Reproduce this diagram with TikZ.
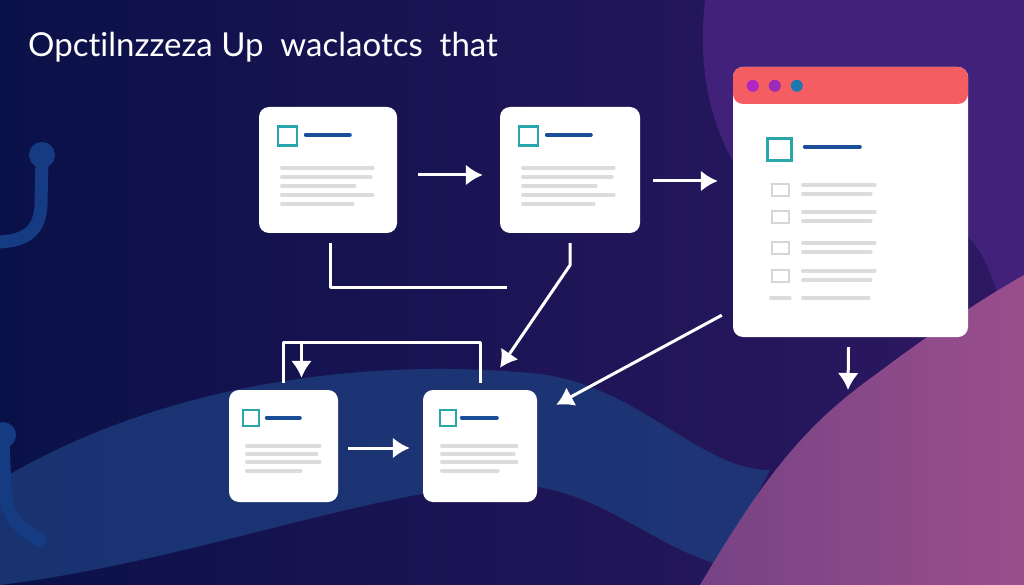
\documentclass[tikz,border=0pt]{standalone}
\usepackage{fontspec}
\setmainfont{Lato}[Ligatures={NoCommon,NoRare}]
\usepackage{xcolor}
\usepackage{tikz}
\usetikzlibrary{arrows.meta}
\usetikzlibrary{positioning}
\usetikzlibrary{calc}

\definecolor{bgleft}{HTML}{0A1148}
\definecolor{bgright}{HTML}{2E1862}
\definecolor{blobpurple}{HTML}{42217A}
\definecolor{wavebl}{HTML}{1D3C7C}
\definecolor{pinkl}{HTML}{764384}
\definecolor{pinkr}{HTML}{9A4E8C}
\definecolor{decoblue}{HTML}{153C82}
\definecolor{winred}{HTML}{F45E62}
\definecolor{tealbox}{HTML}{2AA6AA}
\definecolor{barblue}{HTML}{1B4E98}
\definecolor{greyline}{HTML}{DCDCDE}
\definecolor{greybox}{HTML}{D6D6D8}
\definecolor{dotone}{HTML}{B027C4}
\definecolor{dottwo}{HTML}{9E2AB8}
\definecolor{dotthree}{HTML}{1C78AE}

\begin{document}
\begin{tikzpicture}[x=1pt,y=-1pt,>=latex,
    card/.style={fill=white, rounded corners=10pt, inner sep=0pt},
    arr/.style={draw=white, line width=3pt, -{Latex[length=17pt,width=21pt]}},
    link/.style={draw=white, line width=3pt, line join=round},
    tealsq/.style={draw=tealbox, line width=2.6pt},
    bar/.style={draw=barblue, line width=4pt, line cap=round},
    txtline/.style={draw=greyline, line width=3.6pt, line cap=round},
    minibox/.style={draw=greybox, line width=2.4pt}]

  \useasboundingbox (0,0) rectangle (1024,585);

  % background
  \shade[left color=bgleft, right color=bgright] (0,0) rectangle (1024,585);
  \fill[blobpurple] (705,0) .. controls (695,90) and (720,160) .. (770,210)
      -- (960,230) .. controls (1000,260) and (995,320) .. (1024,345) -- (1024,0) -- cycle;
  \fill[wavebl, opacity=0.8] (0,480) .. controls (150,390) and (350,355) .. (540,374)
      .. controls (640,387) and (700,470) .. (770,470) -- (720,565)
      .. controls (650,545) and (600,490) .. (520,485)
      .. controls (400,480) and (200,560) .. (0,585) -- cycle;
  \shade[left color=pinkl, right color=pinkr] (700,585) .. controls (765,475) and (805,425) .. (875,375)
      .. controls (935,330) and (980,300) .. (1024,275) -- (1024,585) -- cycle;
  \draw[decoblue, line width=13pt, line cap=round] (42,158) -- (41,205) .. controls (40,235) and (20,242) .. (-5,242);
  \fill[decoblue] (42,155) circle (13);
  \draw[decoblue, line width=13pt, line cap=round] (3,440) -- (5,490) .. controls (6,515) and (20,530) .. (40,540);
  \fill[decoblue] (3,435) circle (13);

  % title
  \node[anchor=base west, inner sep=0pt, text=white, font=\fontsize{33}{38}\selectfont] (title) at (28,57)
      {Opctilnzzeza Up\ \ waclaotcs\ \ that};

  % cards
  \node[card, minimum width=138pt, minimum height=126pt] (c1) at (328,170) {};
  \node[card, minimum width=140pt, minimum height=126pt] (c2) at (570,170) {};
  \node[card, minimum width=109pt, minimum height=112pt] (c3) at (283.5,446) {};
  \node[card, minimum width=114pt, minimum height=112pt] (c4) at (480,446) {};
  \node[card, minimum width=235pt, minimum height=270pt,
        path picture={\fill[winred] (path picture bounding box.north west)
            rectangle ([yshift=-37pt]path picture bounding box.north east);}] (win) at (850.5,202) {};

  % card contents
  \foreach \c in {c1,c2}{
    \begin{scope}[shift={(\c.north west)}]
      \draw[tealsq] (19,20) rectangle (38,39);
      \draw[bar] (47,28) -- (91,28);
      \foreach \yy/\xe in {61/114, 70/112, 79/96, 88/114, 97/94}
        \draw[txtline] (23,\yy) -- (\xe,\yy);
    \end{scope}
  }
  \begin{scope}[shift={(c3.north west)}]
    \draw[tealsq] (14,20) rectangle (30,36);
    \draw[bar] (38,28) -- (71,28);
    \foreach \yy/\xe in {56/91, 64/88, 72/91, 81/72}
      \draw[txtline] (18,\yy) -- (\xe,\yy);
  \end{scope}
  \begin{scope}[shift={(c4.north west)}]
    \draw[tealsq] (17,20) rectangle (33,36);
    \draw[bar] (39,28) -- (74,28);
    \foreach \yy/\xe in {56/94, 64/91, 72/94, 81/75}
      \draw[txtline] (19,\yy) -- (\xe,\yy);
  \end{scope}
  \begin{scope}[shift={(win.north west)}]
    \fill[dotone] (20,19) circle (6);
    \fill[dottwo] (42,19) circle (6);
    \fill[dotthree] (64,19) circle (6);
    \draw[tealsq, line width=3pt] (35,72) rectangle (59,94);
    \draw[bar] (72,80) -- (127,80);
    \foreach \yy in {123,150,181,209}{
      \draw[minibox] (39,\yy-6) rectangle (56,\yy+6);
      \draw[txtline] (70,\yy-5) -- (142,\yy-5);
      \draw[txtline] (70,\yy+4) -- (138,\yy+4);
    }
    \draw[txtline] (38,231) -- (57,231);
    \draw[txtline] (70,231) -- (136,231);
  \end{scope}

  % connectors
  \coordinate (j1) at (507,287);
  \coordinate (j2) at (848,390);

  \draw[arr] ([xshift=21pt,yshift=-5pt]c1.east) -- ([xshift=-17pt,yshift=-5pt]c2.west);
  \draw[arr] ([xshift=13pt,yshift=-11pt]c2.east) -- ([xshift=-15pt,yshift=21pt]win.west);
  \draw[link] ([xshift=2pt,yshift=-10pt]c1.south) |- (j1);
  \draw[arr] ([yshift=-10pt]c2.south) -- ++(0,22) -- ([xshift=20pt,yshift=22pt]c4.north);
  \draw[arr] ([xshift=-11pt,yshift=22pt]win.south west) -- ([xshift=19pt,yshift=-15pt]c4.north east);
  \draw[arr] ([xshift=-2pt,yshift=-10pt]win.south) -- (j2);
  \draw[link] ([yshift=7pt]c3.north) |- ([yshift=47pt]c4.north) -- ([yshift=7pt]c4.north);
  \draw[arr] ([xshift=18pt,yshift=47pt]c3.north) -- ([xshift=18pt,yshift=12pt]c3.north);
  \draw[arr] ([xshift=10pt,yshift=-2pt]c3.east) -- ([xshift=-13pt,yshift=-2pt]c4.west);

\end{tikzpicture}
\end{document}
